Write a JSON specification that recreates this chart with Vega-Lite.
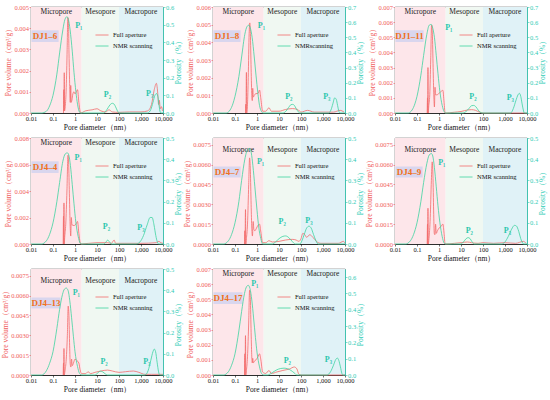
{
  "$schema": "https://vega.github.io/schema/vega-lite/v6.json",
  "description": "Pore size distribution of eight samples: full aperture pore volume and NMR porosity.",
  "padding": {"left": 1, "right": 1, "top": 3, "bottom": 0},
  "columns": 3,
  "spacing": {"row": 3, "column": 0},
  "datasets": {
    "regions": [
      {"r": "Micropore", "a": 0.01, "b": 2},
      {"r": "Mesopore", "a": 2, "b": 100},
      {"r": "Macropore", "a": 100, "b": 10000}
    ],
    "tags": [
      {"s": "DJ1-6", "t": "DJ1–6", "d": 0.0435, "v": 0.003625, "lo": 0.0105, "hi": 0.18, "top": 0.0039, "bot": 0.00335},
      {"s": "DJ1-8", "t": "DJ1–8", "d": 0.0435, "v": 0.00435, "lo": 0.0105, "hi": 0.18, "top": 0.00468, "bot": 0.00402},
      {"s": "DJ1-11", "t": "DJ1–11", "d": 0.046, "v": 0.005075, "lo": 0.0105, "hi": 0.2, "top": 0.00546, "bot": 0.00469},
      {"s": "DJ4-4", "t": "DJ4–4", "d": 0.0435, "v": 0.0058, "lo": 0.0105, "hi": 0.18, "top": 0.00624, "bot": 0.00536},
      {"s": "DJ4-7", "t": "DJ4–7", "d": 0.0435, "v": 0.0054375, "lo": 0.0105, "hi": 0.18, "top": 0.00585, "bot": 0.005025},
      {"s": "DJ4-9", "t": "DJ4–9", "d": 0.0435, "v": 0.0054375, "lo": 0.0105, "hi": 0.18, "top": 0.00585, "bot": 0.005025},
      {"s": "DJ4-13", "t": "DJ4–13", "d": 0.048, "v": 0.0054375, "lo": 0.0105, "hi": 0.22, "top": 0.00585, "bot": 0.005025},
      {"s": "DJ4-17", "t": "DJ4–17", "d": 0.048, "v": 0.005075, "lo": 0.0105, "hi": 0.22, "top": 0.00546, "bot": 0.00469}
    ],
    "DJ1-6 full": [
      {"d":0.3,"v":0},{"d":0.31,"v":0.0011},{"d":0.315,"v":0.0001},{"d":0.325,"v":0.0019},{"d":0.335,"v":0.0001},{"d":0.36,"v":0.0003},{"d":0.4,"v":0.0012},{"d":0.44,"v":0.003},{"d":0.47,"v":0.0045},{"d":0.5,"v":0.0044},{"d":0.53,"v":0.003},{"d":0.57,"v":0.0014},{"d":0.61,"v":0.0005},{"d":0.64,"v":0.0013},{"d":0.67,"v":0.0005},{"d":0.72,"v":0.0006},{"d":0.8,"v":0.0009},{"d":0.9,"v":0.001},{"d":1.0,"v":0.0009},{"d":1.15,"v":0.001},{"d":1.3,"v":0.0011},{"d":1.5,"v":0.0005},{"d":1.8,"v":0},{"d":3,"v":0.0001},{"d":6,"v":0.00015},{"d":10,"v":0.0002},{"d":15,"v":0.0001},{"d":25,"v":0.00005},{"d":35,"v":0.00015},{"d":50,"v":0.00005},{"d":100,"v":0.00003},{"d":300,"v":0.00005},{"d":1000,"v":0.00005},{"d":2000,"v":0.0001},{"d":3000,"v":0.0004},{"d":4000,"v":0.0011},{"d":5000,"v":0.0014},{"d":5800,"v":0.0009},{"d":6300,"v":0.0004},{"d":6800,"v":0.0006},{"d":7500,"v":0.0002},{"d":8500,"v":0.0003},{"d":9500,"v":0.0001}
    ],
    "DJ1-6 nmr": [
      {"d":0.01,"v":0},{"d":0.03,"v":0},{"d":0.05,"v":0.01},{"d":0.07,"v":0.04},{"d":0.1,"v":0.1},{"d":0.15,"v":0.22},{"d":0.2,"v":0.34},{"d":0.28,"v":0.47},{"d":0.35,"v":0.53},{"d":0.43,"v":0.545},{"d":0.5,"v":0.53},{"d":0.6,"v":0.47},{"d":0.75,"v":0.35},{"d":0.9,"v":0.23},{"d":1.1,"v":0.12},{"d":1.3,"v":0.05},{"d":1.6,"v":0.005},{"d":1.8,"v":0},{"d":20,"v":0},{"d":25,"v":0.01},{"d":32,"v":0.03},{"d":40,"v":0.048},{"d":50,"v":0.055},{"d":60,"v":0.05},{"d":70,"v":0.035},{"d":85,"v":0.012},{"d":100,"v":0},{"d":2000,"v":0},{"d":2800,"v":0.02},{"d":3500,"v":0.06},{"d":4300,"v":0.1},{"d":5000,"v":0.11},{"d":5800,"v":0.095},{"d":6500,"v":0.05},{"d":7300,"v":0.01},{"d":8000,"v":0},{"d":10000,"v":0}
    ],
    "DJ1-6 peaks": [
      {"t":"P₁","d":1.5,"v":0.0041},{"t":"P₂","d":30,"v":0.00085},{"t":"P₃","d":2500,"v":0.0009}
    ],
    "DJ1-8 full": [
      {"d":0.3,"v":0},{"d":0.31,"v":0.0005},{"d":0.315,"v":0},{"d":0.33,"v":0.0023},{"d":0.34,"v":0},{"d":0.37,"v":0.0005},{"d":0.4,"v":0.002},{"d":0.44,"v":0.0045},{"d":0.47,"v":0.0051},{"d":0.5,"v":0.0045},{"d":0.54,"v":0.0025},{"d":0.58,"v":0.001},{"d":0.61,"v":0.0007},{"d":0.64,"v":0.0014},{"d":0.68,"v":0.0009},{"d":0.75,"v":0.001},{"d":0.9,"v":0.0011},{"d":1.1,"v":0.0011},{"d":1.3,"v":0.0013},{"d":1.5,"v":0.0008},{"d":1.8,"v":0.0001},{"d":2.5,"v":0.0001},{"d":3.5,"v":0.0003},{"d":4.5,"v":0.0001},{"d":10,"v":0.0001},{"d":20,"v":0.0002},{"d":40,"v":0.00025},{"d":70,"v":0.0002},{"d":100,"v":0.00005},{"d":200,"v":0.00015},{"d":400,"v":0.00005},{"d":1000,"v":0.00005},{"d":3000,"v":0.00005},{"d":6000,"v":0.00015},{"d":9000,"v":0.00005}
    ],
    "DJ1-8 nmr": [
      {"d":0.01,"v":0},{"d":0.04,"v":0},{"d":0.06,"v":0.02},{"d":0.08,"v":0.06},{"d":0.1,"v":0.11},{"d":0.15,"v":0.24},{"d":0.2,"v":0.37},{"d":0.28,"v":0.52},{"d":0.35,"v":0.57},{"d":0.42,"v":0.58},{"d":0.5,"v":0.56},{"d":0.6,"v":0.5},{"d":0.75,"v":0.37},{"d":0.9,"v":0.25},{"d":1.1,"v":0.13},{"d":1.3,"v":0.05},{"d":1.6,"v":0.01},{"d":1.9,"v":0},{"d":15,"v":0},{"d":20,"v":0.01},{"d":27,"v":0.035},{"d":35,"v":0.055},{"d":42,"v":0.057},{"d":50,"v":0.05},{"d":60,"v":0.03},{"d":75,"v":0.008},{"d":90,"v":0},{"d":1800,"v":0},{"d":2300,"v":0.02},{"d":2800,"v":0.06},{"d":3400,"v":0.1},{"d":4000,"v":0.09},{"d":4600,"v":0.05},{"d":5300,"v":0.01},{"d":6000,"v":0},{"d":10000,"v":0}
    ],
    "DJ1-8 peaks": [
      {"t":"P₁","d":1.6,"v":0.0049},{"t":"P₂","d":28,"v":0.0009},{"t":"P₃","d":1500,"v":0.0009}
    ],
    "DJ1-11 full": [
      {"d":0.29,"v":0},{"d":0.3,"v":0.001},{"d":0.305,"v":0},{"d":0.315,"v":0.003},{"d":0.325,"v":0},{"d":0.34,"v":0.0004},{"d":0.38,"v":0.0012},{"d":0.42,"v":0.0035},{"d":0.46,"v":0.0058},{"d":0.5,"v":0.0052},{"d":0.54,"v":0.003},{"d":0.58,"v":0.0012},{"d":0.62,"v":0.0004},{"d":0.66,"v":0.0017},{"d":0.7,"v":0.0012},{"d":0.8,"v":0.0012},{"d":1.0,"v":0.0013},{"d":1.2,"v":0.0014},{"d":1.5,"v":0.0015},{"d":1.7,"v":0.0007},{"d":1.9,"v":0},{"d":5,"v":0.00005},{"d":10,"v":0.0001},{"d":20,"v":0.0002},{"d":30,"v":0.00022},{"d":45,"v":0.00018},{"d":70,"v":0.00005},{"d":100,"v":0},{"d":10000,"v":0}
    ],
    "DJ1-11 nmr": [
      {"d":0.01,"v":0},{"d":0.04,"v":0},{"d":0.06,"v":0.02},{"d":0.08,"v":0.06},{"d":0.1,"v":0.11},{"d":0.15,"v":0.25},{"d":0.2,"v":0.38},{"d":0.28,"v":0.52},{"d":0.36,"v":0.58},{"d":0.45,"v":0.585},{"d":0.52,"v":0.56},{"d":0.62,"v":0.5},{"d":0.75,"v":0.38},{"d":0.9,"v":0.26},{"d":1.1,"v":0.14},{"d":1.4,"v":0.05},{"d":1.7,"v":0.01},{"d":2,"v":0},{"d":12,"v":0},{"d":17,"v":0.01},{"d":23,"v":0.03},{"d":30,"v":0.048},{"d":38,"v":0.05},{"d":48,"v":0.04},{"d":60,"v":0.02},{"d":80,"v":0.003},{"d":100,"v":0},{"d":1800,"v":0},{"d":2400,"v":0.03},{"d":3100,"v":0.08},{"d":3900,"v":0.12},{"d":4500,"v":0.13},{"d":5200,"v":0.11},{"d":6000,"v":0.06},{"d":6800,"v":0.02},{"d":7500,"v":0},{"d":10000,"v":0}
    ],
    "DJ1-11 peaks": [
      {"t":"P₁","d":2.8,"v":0.0056},{"t":"P₂","d":35,"v":0.00105},{"t":"P₃","d":1750,"v":0.001}
    ],
    "DJ4-4 full": [
      {"d":0.29,"v":0},{"d":0.3,"v":0.0021},{"d":0.305,"v":0},{"d":0.315,"v":0.0031},{"d":0.325,"v":0},{"d":0.34,"v":0.0005},{"d":0.38,"v":0.0015},{"d":0.43,"v":0.004},{"d":0.48,"v":0.0067},{"d":0.52,"v":0.0058},{"d":0.56,"v":0.0035},{"d":0.6,"v":0.0015},{"d":0.64,"v":0.0006},{"d":0.68,"v":0.002},{"d":0.72,"v":0.0015},{"d":0.8,"v":0.0014},{"d":0.95,"v":0.0014},{"d":1.1,"v":0.0015},{"d":1.3,"v":0.0017},{"d":1.5,"v":0.0008},{"d":1.8,"v":0},{"d":10,"v":0.0001},{"d":30,"v":0.0001},{"d":45,"v":0.00005},{"d":60,"v":0.0003},{"d":70,"v":0.00005},{"d":100,"v":0.00005},{"d":1000,"v":0.00005},{"d":5000,"v":0.0001},{"d":6500,"v":0.0002},{"d":8000,"v":0.0001},{"d":10000,"v":0.00005}
    ],
    "DJ4-4 nmr": [
      {"d":0.01,"v":0},{"d":0.03,"v":0},{"d":0.05,"v":0.015},{"d":0.07,"v":0.045},{"d":0.1,"v":0.1},{"d":0.15,"v":0.2},{"d":0.2,"v":0.29},{"d":0.28,"v":0.39},{"d":0.36,"v":0.425},{"d":0.45,"v":0.43},{"d":0.52,"v":0.42},{"d":0.62,"v":0.37},{"d":0.75,"v":0.28},{"d":0.9,"v":0.19},{"d":1.1,"v":0.1},{"d":1.4,"v":0.035},{"d":1.7,"v":0.005},{"d":2,"v":0},{"d":20,"v":0},{"d":25,"v":0.008},{"d":30,"v":0.018},{"d":36,"v":0.012},{"d":45,"v":0},{"d":600,"v":0},{"d":900,"v":0.01},{"d":1300,"v":0.04},{"d":1900,"v":0.09},{"d":2600,"v":0.125},{"d":3200,"v":0.125},{"d":3900,"v":0.09},{"d":4700,"v":0.04},{"d":5500,"v":0.01},{"d":6300,"v":0},{"d":10000,"v":0}
    ],
    "DJ4-4 peaks": [
      {"t":"P₁","d":1.4,"v":0.0065},{"t":"P₂","d":27,"v":0.0013},{"t":"P₃","d":1000,"v":0.0012}
    ],
    "DJ4-7 full": [
      {"d":0.27,"v":0},{"d":0.28,"v":0.001},{"d":0.285,"v":0},{"d":0.3,"v":0.0026},{"d":0.31,"v":0},{"d":0.33,"v":0.0004},{"d":0.37,"v":0.0015},{"d":0.42,"v":0.0045},{"d":0.46,"v":0.0065},{"d":0.5,"v":0.0055},{"d":0.54,"v":0.003},{"d":0.58,"v":0.0012},{"d":0.62,"v":0.0006},{"d":0.67,"v":0.0017},{"d":0.72,"v":0.0011},{"d":0.8,"v":0.001},{"d":0.95,"v":0.0012},{"d":1.1,"v":0.0014},{"d":1.3,"v":0.0015},{"d":1.5,"v":0.0009},{"d":1.8,"v":0.0001},{"d":2.5,"v":0.0001},{"d":3.5,"v":0.00025},{"d":5,"v":0.00015},{"d":10,"v":0.0002},{"d":20,"v":0.0003},{"d":40,"v":0.00035},{"d":60,"v":0.0003},{"d":80,"v":0.0002},{"d":100,"v":0.0004},{"d":120,"v":0.0008},{"d":150,"v":0.0007},{"d":180,"v":0.0005},{"d":250,"v":0.0007},{"d":350,"v":0.0005},{"d":500,"v":0.0002},{"d":800,"v":0.00005},{"d":5000,"v":0.00005},{"d":8500,"v":0.0002},{"d":10000,"v":0.00005}
    ],
    "DJ4-7 nmr": [
      {"d":0.01,"v":0},{"d":0.03,"v":0},{"d":0.05,"v":0.015},{"d":0.07,"v":0.045},{"d":0.1,"v":0.1},{"d":0.15,"v":0.2},{"d":0.2,"v":0.3},{"d":0.28,"v":0.4},{"d":0.37,"v":0.445},{"d":0.47,"v":0.45},{"d":0.55,"v":0.43},{"d":0.65,"v":0.37},{"d":0.8,"v":0.27},{"d":1.0,"v":0.16},{"d":1.2,"v":0.08},{"d":1.5,"v":0.025},{"d":1.8,"v":0},{"d":5,"v":0},{"d":7,"v":0.01},{"d":10,"v":0.025},{"d":15,"v":0.036},{"d":20,"v":0.038},{"d":28,"v":0.03},{"d":40,"v":0.012},{"d":55,"v":0},{"d":90,"v":0},{"d":110,"v":0.015},{"d":140,"v":0.045},{"d":180,"v":0.075},{"d":230,"v":0.084},{"d":290,"v":0.075},{"d":370,"v":0.045},{"d":480,"v":0.015},{"d":600,"v":0},{"d":10000,"v":0}
    ],
    "DJ4-7 peaks": [
      {"t":"P₁","d":1.45,"v":0.0062},{"t":"P₂","d":14,"v":0.00165},{"t":"P₃","d":230,"v":0.0017}
    ],
    "DJ4-9 full": [
      {"d":0.29,"v":0},{"d":0.3,"v":0.0015},{"d":0.305,"v":0},{"d":0.315,"v":0.0027},{"d":0.325,"v":0},{"d":0.35,"v":0.0004},{"d":0.4,"v":0.002},{"d":0.45,"v":0.0048},{"d":0.49,"v":0.0062},{"d":0.53,"v":0.0052},{"d":0.57,"v":0.0025},{"d":0.61,"v":0.0008},{"d":0.65,"v":0.0007},{"d":0.7,"v":0.0015},{"d":0.75,"v":0.0008},{"d":0.85,"v":0.001},{"d":1.0,"v":0.0012},{"d":1.2,"v":0.0013},{"d":1.5,"v":0.0015},{"d":1.7,"v":0.0008},{"d":1.9,"v":0},{"d":5,"v":0.00005},{"d":10,"v":0.0001},{"d":20,"v":0.00015},{"d":30,"v":0.0001},{"d":60,"v":0.00005},{"d":100,"v":0.0001},{"d":300,"v":0.00005},{"d":1000,"v":0.0001},{"d":3000,"v":0.00005},{"d":7000,"v":0.0002},{"d":9000,"v":0.00005}
    ],
    "DJ4-9 nmr": [
      {"d":0.01,"v":0},{"d":0.03,"v":0},{"d":0.05,"v":0.015},{"d":0.07,"v":0.045},{"d":0.1,"v":0.1},{"d":0.15,"v":0.2},{"d":0.2,"v":0.29},{"d":0.28,"v":0.38},{"d":0.36,"v":0.42},{"d":0.45,"v":0.427},{"d":0.52,"v":0.415},{"d":0.62,"v":0.36},{"d":0.75,"v":0.27},{"d":0.9,"v":0.18},{"d":1.1,"v":0.1},{"d":1.4,"v":0.035},{"d":1.7,"v":0.005},{"d":2,"v":0},{"d":10,"v":0},{"d":13,"v":0.01},{"d":17,"v":0.025},{"d":21,"v":0.03},{"d":26,"v":0.025},{"d":32,"v":0.01},{"d":40,"v":0},{"d":700,"v":0},{"d":1000,"v":0.01},{"d":1400,"v":0.035},{"d":2000,"v":0.07},{"d":2700,"v":0.088},{"d":3300,"v":0.085},{"d":4200,"v":0.06},{"d":5200,"v":0.025},{"d":6300,"v":0.005},{"d":7000,"v":0},{"d":10000,"v":0}
    ],
    "DJ4-9 peaks": [
      {"t":"P₁","d":1.35,"v":0.0061},{"t":"P₂","d":24,"v":0.001},{"t":"P₃","d":1300,"v":0.001}
    ],
    "DJ4-13 full": [
      {"d":0.29,"v":0},{"d":0.3,"v":0.0009},{"d":0.305,"v":0},{"d":0.315,"v":0.002},{"d":0.325,"v":0},{"d":0.35,"v":0.0003},{"d":0.4,"v":0.0012},{"d":0.45,"v":0.003},{"d":0.49,"v":0.0052},{"d":0.53,"v":0.0045},{"d":0.57,"v":0.0022},{"d":0.61,"v":0.0008},{"d":0.65,"v":0.0006},{"d":0.7,"v":0.0012},{"d":0.75,"v":0.0007},{"d":0.85,"v":0.0009},{"d":1.0,"v":0.0012},{"d":1.2,"v":0.0011},{"d":1.5,"v":0.0009},{"d":1.7,"v":0.0004},{"d":2,"v":0.0001},{"d":3,"v":0.0001},{"d":4,"v":0.00025},{"d":5,"v":0.0001},{"d":8,"v":0.0002},{"d":15,"v":0.0003},{"d":30,"v":0.00037},{"d":50,"v":0.0003},{"d":100,"v":0.0002},{"d":200,"v":0.00025},{"d":450,"v":0.0003},{"d":800,"v":0.0002},{"d":1500,"v":0.00005},{"d":3000,"v":0.00005},{"d":10000,"v":0.00005}
    ],
    "DJ4-13 nmr": [
      {"d":0.01,"v":0},{"d":0.03,"v":0},{"d":0.05,"v":0.02},{"d":0.07,"v":0.055},{"d":0.1,"v":0.11},{"d":0.15,"v":0.22},{"d":0.2,"v":0.31},{"d":0.27,"v":0.38},{"d":0.33,"v":0.405},{"d":0.4,"v":0.41},{"d":0.48,"v":0.4},{"d":0.58,"v":0.35},{"d":0.7,"v":0.27},{"d":0.85,"v":0.18},{"d":1.0,"v":0.11},{"d":1.3,"v":0.04},{"d":1.6,"v":0.008},{"d":2,"v":0},{"d":8,"v":0},{"d":11,"v":0.01},{"d":14,"v":0.018},{"d":18,"v":0.015},{"d":24,"v":0.005},{"d":30,"v":0},{"d":1500,"v":0},{"d":2100,"v":0.02},{"d":2800,"v":0.07},{"d":3500,"v":0.11},{"d":4000,"v":0.122},{"d":4600,"v":0.11},{"d":5400,"v":0.06},{"d":6300,"v":0.015},{"d":7000,"v":0},{"d":10000,"v":0}
    ],
    "DJ4-13 peaks": [
      {"t":"P₁","d":1.15,"v":0.0062},{"t":"P₂","d":21,"v":0.00095},{"t":"P₃","d":1850,"v":0.00095}
    ],
    "DJ4-17 full": [
      {"d":0.27,"v":0},{"d":0.28,"v":0.0014},{"d":0.285,"v":0},{"d":0.3,"v":0.0026},{"d":0.31,"v":0},{"d":0.33,"v":0.0003},{"d":0.37,"v":0.0012},{"d":0.42,"v":0.0035},{"d":0.46,"v":0.0056},{"d":0.5,"v":0.005},{"d":0.54,"v":0.0028},{"d":0.58,"v":0.0012},{"d":0.61,"v":0.0008},{"d":0.64,"v":0.0011},{"d":0.68,"v":0.0008},{"d":0.75,"v":0.0009},{"d":0.9,"v":0.001},{"d":1.1,"v":0.0012},{"d":1.3,"v":0.0014},{"d":1.5,"v":0.001},{"d":1.8,"v":0.0002},{"d":2.5,"v":0.0001},{"d":3.5,"v":0.0003},{"d":4.5,"v":0.0001},{"d":8,"v":0.0002},{"d":15,"v":0.0003},{"d":30,"v":0.0004},{"d":50,"v":0.00053},{"d":65,"v":0.0004},{"d":80,"v":0.00005},{"d":100,"v":0},{"d":10000,"v":0}
    ],
    "DJ4-17 nmr": [
      {"d":0.01,"v":0},{"d":0.03,"v":0},{"d":0.05,"v":0.02},{"d":0.07,"v":0.06},{"d":0.1,"v":0.13},{"d":0.15,"v":0.27},{"d":0.2,"v":0.39},{"d":0.27,"v":0.5},{"d":0.33,"v":0.54},{"d":0.4,"v":0.55},{"d":0.48,"v":0.53},{"d":0.58,"v":0.46},{"d":0.7,"v":0.35},{"d":0.85,"v":0.23},{"d":1.0,"v":0.14},{"d":1.3,"v":0.05},{"d":1.6,"v":0.01},{"d":2,"v":0},{"d":3,"v":0},{"d":5,"v":0.015},{"d":8,"v":0.032},{"d":12,"v":0.04},{"d":17,"v":0.042},{"d":25,"v":0.038},{"d":35,"v":0.028},{"d":50,"v":0.012},{"d":65,"v":0},{"d":1500,"v":0},{"d":2200,"v":0.02},{"d":3000,"v":0.06},{"d":3800,"v":0.095},{"d":4500,"v":0.104},{"d":5200,"v":0.09},{"d":6200,"v":0.05},{"d":7200,"v":0.01},{"d":8000,"v":0},{"d":10000,"v":0}
    ],
    "DJ4-17 peaks": [
      {"t":"P₁","d":0.8,"v":0.006},{"t":"P₂","d":24,"v":0.0009},{"t":"P₃","d":1780,"v":0.001}
    ]
  },
  "concat": [
    {
      "width": 132, "height": 106,
      "encoding": {"x": {"field": "d", "type": "quantitative", "scale": {"type": "log", "domain": [0.01, 10000]}, "axis": {"values": [0.01, 0.1, 1, 10, 100, 1000, 10000], "format": ",", "title": "Pore diameter（nm）"}}},
      "layer": [
        {"layer": [
          {"data": {"name": "regions"}, "mark": "rect", "encoding": {"x": {"field": "a", "type": "quantitative"}, "x2": {"field": "b"}, "fill": {"field": "r", "type": "nominal", "scale": {"domain": ["Micropore", "Mesopore", "Macropore"], "range": ["#fde6ea", "#f0f8f2", "#e0f2f7"]}, "legend": null}}},
          {"data": {"name": "regions"}, "transform": [{"calculate": "sqrt(datum.a * datum.b)", "as": "m"}], "mark": {"type": "text", "fontSize": 7.5, "color": "#222"}, "encoding": {"x": {"field": "m", "type": "quantitative"}, "y": {"datum": 0.00475, "axis": {"values": [0, 0.001, 0.002, 0.003, 0.004, 0.005], "format": ".3f", "title": "Pore volume（cm³/g）"}}, "text": {"field": "r"}}},
          {"data": {"name": "tags"}, "transform": [{"filter": "datum.s === 'DJ1-6'"}], "mark": {"type": "rect", "color": "#d9d6ee"}, "encoding": {"x": {"field": "lo", "type": "quantitative"}, "x2": {"field": "hi"}, "y": {"field": "top", "type": "quantitative", "axis": {"values": [0, 0.001, 0.002, 0.003, 0.004, 0.005], "format": ".3f", "title": "Pore volume（cm³/g）"}}, "y2": {"field": "bot"}}},
          {"data": {"name": "tags"}, "transform": [{"filter": "datum.s === 'DJ1-6'"}], "mark": {"type": "text", "fontSize": 9, "fontWeight": "bold", "color": "#f07020"}, "encoding": {"y": {"field": "v", "type": "quantitative", "axis": {"values": [0, 0.001, 0.002, 0.003, 0.004, 0.005], "format": ".3f", "title": "Pore volume（cm³/g）"}}, "text": {"field": "t"}}},
          {"data": {"name": "DJ1-6 full"}, "mark": "line", "encoding": {"y": {"field": "v", "type": "quantitative", "scale": {"domain": [0, 0.005]}, "axis": {"values": [0, 0.001, 0.002, 0.003, 0.004, 0.005], "format": ".3f", "title": "Pore volume（cm³/g）"}}, "color": {"datum": "Full aperture", "type": "nominal", "scale": {"domain": ["Full aperture", "NMR scanning"], "range": ["#f26b6b", "#3dd39f"]}, "legend": {"orient": "none", "legendX": 64, "legendY": 21}}}},
          {"data": {"name": "DJ1-6 peaks"}, "mark": {"type": "text", "fontSize": 8, "fontWeight": "bold", "color": "#2cc6ad"}, "encoding": {"y": {"field": "v", "type": "quantitative", "axis": {"values": [0, 0.001, 0.002, 0.003, 0.004, 0.005], "format": ".3f", "title": "Pore volume（cm³/g）"}}, "text": {"field": "t"}}}
        ]},
        {"data": {"name": "DJ1-6 nmr"}, "mark": "line", "encoding": {"y": {"field": "v", "type": "quantitative", "scale": {"domain": [0, 0.6]}, "axis": {"orient": "right", "values": [0, 0.1, 0.2, 0.3, 0.4, 0.5, 0.6], "format": ".1f", "title": "Porosity（%）"}}, "color": {"datum": "NMR scanning", "type": "nominal"}}}
      ],
      "resolve": {"scale": {"y": "independent"}}
    },
    {
      "width": 132, "height": 106,
      "encoding": {"x": {"field": "d", "type": "quantitative", "scale": {"type": "log", "domain": [0.01, 10000]}, "axis": {"values": [0.01, 0.1, 1, 10, 100, 1000, 10000], "format": ",", "title": "Pore diameter（nm）"}}},
      "layer": [
        {"layer": [
          {"data": {"name": "regions"}, "mark": "rect", "encoding": {"x": {"field": "a", "type": "quantitative"}, "x2": {"field": "b"}, "fill": {"field": "r", "type": "nominal", "scale": {"domain": ["Micropore", "Mesopore", "Macropore"], "range": ["#fde6ea", "#f0f8f2", "#e0f2f7"]}, "legend": null}}},
          {"data": {"name": "regions"}, "transform": [{"calculate": "sqrt(datum.a * datum.b)", "as": "m"}], "mark": {"type": "text", "fontSize": 7.5, "color": "#222"}, "encoding": {"x": {"field": "m", "type": "quantitative"}, "y": {"datum": 0.0057, "axis": {"values": [0, 0.001, 0.002, 0.003, 0.004, 0.005, 0.006], "format": ".3f", "title": "Pore volume（cm³/g）"}}, "text": {"field": "r"}}},
          {"data": {"name": "tags"}, "transform": [{"filter": "datum.s === 'DJ1-8'"}], "mark": {"type": "rect", "color": "#d9d6ee"}, "encoding": {"x": {"field": "lo", "type": "quantitative"}, "x2": {"field": "hi"}, "y": {"field": "top", "type": "quantitative", "axis": {"values": [0, 0.001, 0.002, 0.003, 0.004, 0.005, 0.006], "format": ".3f", "title": "Pore volume（cm³/g）"}}, "y2": {"field": "bot"}}},
          {"data": {"name": "tags"}, "transform": [{"filter": "datum.s === 'DJ1-8'"}], "mark": {"type": "text", "fontSize": 9, "fontWeight": "bold", "color": "#f07020"}, "encoding": {"y": {"field": "v", "type": "quantitative", "axis": {"values": [0, 0.001, 0.002, 0.003, 0.004, 0.005, 0.006], "format": ".3f", "title": "Pore volume（cm³/g）"}}, "text": {"field": "t"}}},
          {"data": {"name": "DJ1-8 full"}, "mark": "line", "encoding": {"y": {"field": "v", "type": "quantitative", "scale": {"domain": [0, 0.006]}, "axis": {"values": [0, 0.001, 0.002, 0.003, 0.004, 0.005, 0.006], "format": ".3f", "title": "Pore volume（cm³/g）"}}, "color": {"datum": "Full aperture", "type": "nominal", "scale": {"domain": ["Full aperture", "NMR scanning"], "range": ["#f26b6b", "#3dd39f"]}, "legend": {"orient": "none", "legendX": 64, "legendY": 21, "labelExpr": "datum.label === 'NMR scanning' ? 'NMRscanning' : datum.label"}}}},
          {"data": {"name": "DJ1-8 peaks"}, "mark": {"type": "text", "fontSize": 8, "fontWeight": "bold", "color": "#2cc6ad"}, "encoding": {"y": {"field": "v", "type": "quantitative", "axis": {"values": [0, 0.001, 0.002, 0.003, 0.004, 0.005, 0.006], "format": ".3f", "title": "Pore volume（cm³/g）"}}, "text": {"field": "t"}}}
        ]},
        {"data": {"name": "DJ1-8 nmr"}, "mark": "line", "encoding": {"y": {"field": "v", "type": "quantitative", "scale": {"domain": [0, 0.7]}, "axis": {"orient": "right", "values": [0, 0.1, 0.2, 0.3, 0.4, 0.5, 0.6, 0.7], "format": ".1f", "title": "Porosity（%）"}}, "color": {"datum": "NMR scanning", "type": "nominal"}}}
      ],
      "resolve": {"scale": {"y": "independent"}}
    },
    {
      "width": 132, "height": 106,
      "encoding": {"x": {"field": "d", "type": "quantitative", "scale": {"type": "log", "domain": [0.01, 10000]}, "axis": {"values": [0.01, 0.1, 1, 10, 100, 1000, 10000], "format": ",", "title": "Pore diameter（nm）"}}},
      "layer": [
        {"layer": [
          {"data": {"name": "regions"}, "mark": "rect", "encoding": {"x": {"field": "a", "type": "quantitative"}, "x2": {"field": "b"}, "fill": {"field": "r", "type": "nominal", "scale": {"domain": ["Micropore", "Mesopore", "Macropore"], "range": ["#fde6ea", "#f0f8f2", "#e0f2f7"]}, "legend": null}}},
          {"data": {"name": "regions"}, "transform": [{"calculate": "sqrt(datum.a * datum.b)", "as": "m"}], "mark": {"type": "text", "fontSize": 7.5, "color": "#222"}, "encoding": {"x": {"field": "m", "type": "quantitative"}, "y": {"datum": 0.00665, "axis": {"values": [0, 0.001, 0.002, 0.003, 0.004, 0.005, 0.006, 0.007], "format": ".3f", "title": "Pore volume（cm³/g）"}}, "text": {"field": "r"}}},
          {"data": {"name": "tags"}, "transform": [{"filter": "datum.s === 'DJ1-11'"}], "mark": {"type": "rect", "color": "#d9d6ee"}, "encoding": {"x": {"field": "lo", "type": "quantitative"}, "x2": {"field": "hi"}, "y": {"field": "top", "type": "quantitative", "axis": {"values": [0, 0.001, 0.002, 0.003, 0.004, 0.005, 0.006, 0.007], "format": ".3f", "title": "Pore volume（cm³/g）"}}, "y2": {"field": "bot"}}},
          {"data": {"name": "tags"}, "transform": [{"filter": "datum.s === 'DJ1-11'"}], "mark": {"type": "text", "fontSize": 9, "fontWeight": "bold", "color": "#f07020"}, "encoding": {"y": {"field": "v", "type": "quantitative", "axis": {"values": [0, 0.001, 0.002, 0.003, 0.004, 0.005, 0.006, 0.007], "format": ".3f", "title": "Pore volume（cm³/g）"}}, "text": {"field": "t"}}},
          {"data": {"name": "DJ1-11 full"}, "mark": "line", "encoding": {"y": {"field": "v", "type": "quantitative", "scale": {"domain": [0, 0.007]}, "axis": {"values": [0, 0.001, 0.002, 0.003, 0.004, 0.005, 0.006, 0.007], "format": ".3f", "title": "Pore volume（cm³/g）"}}, "color": {"datum": "Full aperture", "type": "nominal", "scale": {"domain": ["Full aperture", "NMR scanning"], "range": ["#f26b6b", "#3dd39f"]}, "legend": {"orient": "none", "legendX": 64, "legendY": 21}}}},
          {"data": {"name": "DJ1-11 peaks"}, "mark": {"type": "text", "fontSize": 8, "fontWeight": "bold", "color": "#2cc6ad"}, "encoding": {"y": {"field": "v", "type": "quantitative", "axis": {"values": [0, 0.001, 0.002, 0.003, 0.004, 0.005, 0.006, 0.007], "format": ".3f", "title": "Pore volume（cm³/g）"}}, "text": {"field": "t"}}}
        ]},
        {"data": {"name": "DJ1-11 nmr"}, "mark": "line", "encoding": {"y": {"field": "v", "type": "quantitative", "scale": {"domain": [0, 0.7]}, "axis": {"orient": "right", "values": [0, 0.1, 0.2, 0.3, 0.4, 0.5, 0.6, 0.7], "format": ".1f", "title": "Porosity（%）"}}, "color": {"datum": "NMR scanning", "type": "nominal"}}}
      ],
      "resolve": {"scale": {"y": "independent"}}
    },
    {
      "width": 132, "height": 106,
      "encoding": {"x": {"field": "d", "type": "quantitative", "scale": {"type": "log", "domain": [0.01, 10000]}, "axis": {"values": [0.01, 0.1, 1, 10, 100, 1000, 10000], "format": ",", "title": "Pore diameter（nm）"}}},
      "layer": [
        {"layer": [
          {"data": {"name": "regions"}, "mark": "rect", "encoding": {"x": {"field": "a", "type": "quantitative"}, "x2": {"field": "b"}, "fill": {"field": "r", "type": "nominal", "scale": {"domain": ["Micropore", "Mesopore", "Macropore"], "range": ["#fde6ea", "#f0f8f2", "#e0f2f7"]}, "legend": null}}},
          {"data": {"name": "regions"}, "transform": [{"calculate": "sqrt(datum.a * datum.b)", "as": "m"}], "mark": {"type": "text", "fontSize": 7.5, "color": "#222"}, "encoding": {"x": {"field": "m", "type": "quantitative"}, "y": {"datum": 0.0076, "axis": {"values": [0, 0.002, 0.004, 0.006, 0.008], "format": ".3f", "title": "Pore volume（cm³/g）"}}, "text": {"field": "r"}}},
          {"data": {"name": "tags"}, "transform": [{"filter": "datum.s === 'DJ4-4'"}], "mark": {"type": "rect", "color": "#d9d6ee"}, "encoding": {"x": {"field": "lo", "type": "quantitative"}, "x2": {"field": "hi"}, "y": {"field": "top", "type": "quantitative", "axis": {"values": [0, 0.002, 0.004, 0.006, 0.008], "format": ".3f", "title": "Pore volume（cm³/g）"}}, "y2": {"field": "bot"}}},
          {"data": {"name": "tags"}, "transform": [{"filter": "datum.s === 'DJ4-4'"}], "mark": {"type": "text", "fontSize": 9, "fontWeight": "bold", "color": "#f07020"}, "encoding": {"y": {"field": "v", "type": "quantitative", "axis": {"values": [0, 0.002, 0.004, 0.006, 0.008], "format": ".3f", "title": "Pore volume（cm³/g）"}}, "text": {"field": "t"}}},
          {"data": {"name": "DJ4-4 full"}, "mark": "line", "encoding": {"y": {"field": "v", "type": "quantitative", "scale": {"domain": [0, 0.008]}, "axis": {"values": [0, 0.002, 0.004, 0.006, 0.008], "format": ".3f", "title": "Pore volume（cm³/g）"}}, "color": {"datum": "Full aperture", "type": "nominal", "scale": {"domain": ["Full aperture", "NMR scanning"], "range": ["#f26b6b", "#3dd39f"]}, "legend": {"orient": "none", "legendX": 64, "legendY": 21}}}},
          {"data": {"name": "DJ4-4 peaks"}, "mark": {"type": "text", "fontSize": 8, "fontWeight": "bold", "color": "#2cc6ad"}, "encoding": {"y": {"field": "v", "type": "quantitative", "axis": {"values": [0, 0.002, 0.004, 0.006, 0.008], "format": ".3f", "title": "Pore volume（cm³/g）"}}, "text": {"field": "t"}}}
        ]},
        {"data": {"name": "DJ4-4 nmr"}, "mark": "line", "encoding": {"y": {"field": "v", "type": "quantitative", "scale": {"domain": [0, 0.5]}, "axis": {"orient": "right", "values": [0, 0.1, 0.2, 0.3, 0.4, 0.5], "format": ".1f", "title": "Porosity（%）"}}, "color": {"datum": "NMR scanning", "type": "nominal"}}}
      ],
      "resolve": {"scale": {"y": "independent"}}
    },
    {
      "width": 132, "height": 106,
      "encoding": {"x": {"field": "d", "type": "quantitative", "scale": {"type": "log", "domain": [0.01, 10000]}, "axis": {"values": [0.01, 0.1, 1, 10, 100, 1000, 10000], "format": ",", "title": "Pore diameter（nm）"}}},
      "layer": [
        {"layer": [
          {"data": {"name": "regions"}, "mark": "rect", "encoding": {"x": {"field": "a", "type": "quantitative"}, "x2": {"field": "b"}, "fill": {"field": "r", "type": "nominal", "scale": {"domain": ["Micropore", "Mesopore", "Macropore"], "range": ["#fde6ea", "#f0f8f2", "#e0f2f7"]}, "legend": null}}},
          {"data": {"name": "regions"}, "transform": [{"calculate": "sqrt(datum.a * datum.b)", "as": "m"}], "mark": {"type": "text", "fontSize": 7.5, "color": "#222"}, "encoding": {"x": {"field": "m", "type": "quantitative"}, "y": {"datum": 0.007125, "axis": {"values": [0, 0.0015, 0.003, 0.0045, 0.006, 0.0075], "format": ".4f", "title": "Pore volume（cm³/g）"}}, "text": {"field": "r"}}},
          {"data": {"name": "tags"}, "transform": [{"filter": "datum.s === 'DJ4-7'"}], "mark": {"type": "rect", "color": "#d9d6ee"}, "encoding": {"x": {"field": "lo", "type": "quantitative"}, "x2": {"field": "hi"}, "y": {"field": "top", "type": "quantitative", "axis": {"values": [0, 0.0015, 0.003, 0.0045, 0.006, 0.0075], "format": ".4f", "title": "Pore volume（cm³/g）"}}, "y2": {"field": "bot"}}},
          {"data": {"name": "tags"}, "transform": [{"filter": "datum.s === 'DJ4-7'"}], "mark": {"type": "text", "fontSize": 9, "fontWeight": "bold", "color": "#f07020"}, "encoding": {"y": {"field": "v", "type": "quantitative", "axis": {"values": [0, 0.0015, 0.003, 0.0045, 0.006, 0.0075], "format": ".4f", "title": "Pore volume（cm³/g）"}}, "text": {"field": "t"}}},
          {"data": {"name": "DJ4-7 full"}, "mark": "line", "encoding": {"y": {"field": "v", "type": "quantitative", "scale": {"domain": [0, 0.0075]}, "axis": {"values": [0, 0.0015, 0.003, 0.0045, 0.006, 0.0075], "format": ".4f", "title": "Pore volume（cm³/g）"}}, "color": {"datum": "Full aperture", "type": "nominal", "scale": {"domain": ["Full aperture", "NMR scanning"], "range": ["#f26b6b", "#3dd39f"]}, "legend": {"orient": "none", "legendX": 64, "legendY": 21}}}},
          {"data": {"name": "DJ4-7 peaks"}, "mark": {"type": "text", "fontSize": 8, "fontWeight": "bold", "color": "#2cc6ad"}, "encoding": {"y": {"field": "v", "type": "quantitative", "axis": {"values": [0, 0.0015, 0.003, 0.0045, 0.006, 0.0075], "format": ".4f", "title": "Pore volume（cm³/g）"}}, "text": {"field": "t"}}}
        ]},
        {"data": {"name": "DJ4-7 nmr"}, "mark": "line", "encoding": {"y": {"field": "v", "type": "quantitative", "scale": {"domain": [0, 0.5]}, "axis": {"orient": "right", "values": [0, 0.1, 0.2, 0.3, 0.4, 0.5], "format": ".1f", "title": "Porosity（%）"}}, "color": {"datum": "NMR scanning", "type": "nominal"}}}
      ],
      "resolve": {"scale": {"y": "independent"}}
    },
    {
      "width": 132, "height": 106,
      "encoding": {"x": {"field": "d", "type": "quantitative", "scale": {"type": "log", "domain": [0.01, 10000]}, "axis": {"values": [0.01, 0.1, 1, 10, 100, 1000, 10000], "format": ",", "title": "Pore diameter（nm）"}}},
      "layer": [
        {"layer": [
          {"data": {"name": "regions"}, "mark": "rect", "encoding": {"x": {"field": "a", "type": "quantitative"}, "x2": {"field": "b"}, "fill": {"field": "r", "type": "nominal", "scale": {"domain": ["Micropore", "Mesopore", "Macropore"], "range": ["#fde6ea", "#f0f8f2", "#e0f2f7"]}, "legend": null}}},
          {"data": {"name": "regions"}, "transform": [{"calculate": "sqrt(datum.a * datum.b)", "as": "m"}], "mark": {"type": "text", "fontSize": 7.5, "color": "#222"}, "encoding": {"x": {"field": "m", "type": "quantitative"}, "y": {"datum": 0.007125, "axis": {"values": [0, 0.0015, 0.003, 0.0045, 0.006, 0.0075], "format": ".4f", "title": "Pore volume（cm³/g）"}}, "text": {"field": "r"}}},
          {"data": {"name": "tags"}, "transform": [{"filter": "datum.s === 'DJ4-9'"}], "mark": {"type": "rect", "color": "#d9d6ee"}, "encoding": {"x": {"field": "lo", "type": "quantitative"}, "x2": {"field": "hi"}, "y": {"field": "top", "type": "quantitative", "axis": {"values": [0, 0.0015, 0.003, 0.0045, 0.006, 0.0075], "format": ".4f", "title": "Pore volume（cm³/g）"}}, "y2": {"field": "bot"}}},
          {"data": {"name": "tags"}, "transform": [{"filter": "datum.s === 'DJ4-9'"}], "mark": {"type": "text", "fontSize": 9, "fontWeight": "bold", "color": "#f07020"}, "encoding": {"y": {"field": "v", "type": "quantitative", "axis": {"values": [0, 0.0015, 0.003, 0.0045, 0.006, 0.0075], "format": ".4f", "title": "Pore volume（cm³/g）"}}, "text": {"field": "t"}}},
          {"data": {"name": "DJ4-9 full"}, "mark": "line", "encoding": {"y": {"field": "v", "type": "quantitative", "scale": {"domain": [0, 0.0075]}, "axis": {"values": [0, 0.0015, 0.003, 0.0045, 0.006, 0.0075], "format": ".4f", "title": "Pore volume（cm³/g）"}}, "color": {"datum": "Full aperture", "type": "nominal", "scale": {"domain": ["Full aperture", "NMR scanning"], "range": ["#f26b6b", "#3dd39f"]}, "legend": {"orient": "none", "legendX": 64, "legendY": 21}}}},
          {"data": {"name": "DJ4-9 peaks"}, "mark": {"type": "text", "fontSize": 8, "fontWeight": "bold", "color": "#2cc6ad"}, "encoding": {"y": {"field": "v", "type": "quantitative", "axis": {"values": [0, 0.0015, 0.003, 0.0045, 0.006, 0.0075], "format": ".4f", "title": "Pore volume（cm³/g）"}}, "text": {"field": "t"}}}
        ]},
        {"data": {"name": "DJ4-9 nmr"}, "mark": "line", "encoding": {"y": {"field": "v", "type": "quantitative", "scale": {"domain": [0, 0.5]}, "axis": {"orient": "right", "values": [0, 0.1, 0.2, 0.3, 0.4, 0.5], "format": ".1f", "title": "Porosity（%）"}}, "color": {"datum": "NMR scanning", "type": "nominal"}}}
      ],
      "resolve": {"scale": {"y": "independent"}}
    },
    {
      "width": 132, "height": 106,
      "encoding": {"x": {"field": "d", "type": "quantitative", "scale": {"type": "log", "domain": [0.01, 10000]}, "axis": {"values": [0.01, 0.1, 1, 10, 100, 1000, 10000], "format": ",", "title": "Pore diameter（nm）"}}},
      "layer": [
        {"layer": [
          {"data": {"name": "regions"}, "mark": "rect", "encoding": {"x": {"field": "a", "type": "quantitative"}, "x2": {"field": "b"}, "fill": {"field": "r", "type": "nominal", "scale": {"domain": ["Micropore", "Mesopore", "Macropore"], "range": ["#fde6ea", "#f0f8f2", "#e0f2f7"]}, "legend": null}}},
          {"data": {"name": "regions"}, "transform": [{"calculate": "sqrt(datum.a * datum.b)", "as": "m"}], "mark": {"type": "text", "fontSize": 7.5, "color": "#222"}, "encoding": {"x": {"field": "m", "type": "quantitative"}, "y": {"datum": 0.007125, "axis": {"values": [0, 0.0015, 0.003, 0.0045, 0.006, 0.0075], "format": ".4f", "title": "Pore volume（cm³/g）"}}, "text": {"field": "r"}}},
          {"data": {"name": "tags"}, "transform": [{"filter": "datum.s === 'DJ4-13'"}], "mark": {"type": "rect", "color": "#d9d6ee"}, "encoding": {"x": {"field": "lo", "type": "quantitative"}, "x2": {"field": "hi"}, "y": {"field": "top", "type": "quantitative", "axis": {"values": [0, 0.0015, 0.003, 0.0045, 0.006, 0.0075], "format": ".4f", "title": "Pore volume（cm³/g）"}}, "y2": {"field": "bot"}}},
          {"data": {"name": "tags"}, "transform": [{"filter": "datum.s === 'DJ4-13'"}], "mark": {"type": "text", "fontSize": 9, "fontWeight": "bold", "color": "#f07020"}, "encoding": {"y": {"field": "v", "type": "quantitative", "axis": {"values": [0, 0.0015, 0.003, 0.0045, 0.006, 0.0075], "format": ".4f", "title": "Pore volume（cm³/g）"}}, "text": {"field": "t"}}},
          {"data": {"name": "DJ4-13 full"}, "mark": "line", "encoding": {"y": {"field": "v", "type": "quantitative", "scale": {"domain": [0, 0.0075]}, "axis": {"values": [0, 0.0015, 0.003, 0.0045, 0.006, 0.0075], "format": ".4f", "title": "Pore volume（cm³/g）"}}, "color": {"datum": "Full aperture", "type": "nominal", "scale": {"domain": ["Full aperture", "NMR scanning"], "range": ["#f26b6b", "#3dd39f"]}, "legend": {"orient": "none", "legendX": 64, "legendY": 21}}}},
          {"data": {"name": "DJ4-13 peaks"}, "mark": {"type": "text", "fontSize": 8, "fontWeight": "bold", "color": "#2cc6ad"}, "encoding": {"y": {"field": "v", "type": "quantitative", "axis": {"values": [0, 0.0015, 0.003, 0.0045, 0.006, 0.0075], "format": ".4f", "title": "Pore volume（cm³/g）"}}, "text": {"field": "t"}}}
        ]},
        {"data": {"name": "DJ4-13 nmr"}, "mark": "line", "encoding": {"y": {"field": "v", "type": "quantitative", "scale": {"domain": [0, 0.5]}, "axis": {"orient": "right", "values": [0, 0.1, 0.2, 0.3, 0.4, 0.5], "format": ".1f", "title": "Porosity（%）"}}, "color": {"datum": "NMR scanning", "type": "nominal"}}}
      ],
      "resolve": {"scale": {"y": "independent"}}
    },
    {
      "width": 132, "height": 106,
      "encoding": {"x": {"field": "d", "type": "quantitative", "scale": {"type": "log", "domain": [0.01, 10000]}, "axis": {"values": [0.01, 0.1, 1, 10, 100, 1000, 10000], "format": ",", "title": "Pore diameter（nm）"}}},
      "layer": [
        {"layer": [
          {"data": {"name": "regions"}, "mark": "rect", "encoding": {"x": {"field": "a", "type": "quantitative"}, "x2": {"field": "b"}, "fill": {"field": "r", "type": "nominal", "scale": {"domain": ["Micropore", "Mesopore", "Macropore"], "range": ["#fde6ea", "#f0f8f2", "#e0f2f7"]}, "legend": null}}},
          {"data": {"name": "regions"}, "transform": [{"calculate": "sqrt(datum.a * datum.b)", "as": "m"}], "mark": {"type": "text", "fontSize": 7.5, "color": "#222"}, "encoding": {"x": {"field": "m", "type": "quantitative"}, "y": {"datum": 0.00665, "axis": {"values": [0, 0.001, 0.002, 0.003, 0.004, 0.005, 0.006, 0.007], "format": ".3f", "title": "Pore volume（cm³/g）"}}, "text": {"field": "r"}}},
          {"data": {"name": "tags"}, "transform": [{"filter": "datum.s === 'DJ4-17'"}], "mark": {"type": "rect", "color": "#d9d6ee"}, "encoding": {"x": {"field": "lo", "type": "quantitative"}, "x2": {"field": "hi"}, "y": {"field": "top", "type": "quantitative", "axis": {"values": [0, 0.001, 0.002, 0.003, 0.004, 0.005, 0.006, 0.007], "format": ".3f", "title": "Pore volume（cm³/g）"}}, "y2": {"field": "bot"}}},
          {"data": {"name": "tags"}, "transform": [{"filter": "datum.s === 'DJ4-17'"}], "mark": {"type": "text", "fontSize": 9, "fontWeight": "bold", "color": "#f07020"}, "encoding": {"y": {"field": "v", "type": "quantitative", "axis": {"values": [0, 0.001, 0.002, 0.003, 0.004, 0.005, 0.006, 0.007], "format": ".3f", "title": "Pore volume（cm³/g）"}}, "text": {"field": "t"}}},
          {"data": {"name": "DJ4-17 full"}, "mark": "line", "encoding": {"y": {"field": "v", "type": "quantitative", "scale": {"domain": [0, 0.007]}, "axis": {"values": [0, 0.001, 0.002, 0.003, 0.004, 0.005, 0.006, 0.007], "format": ".3f", "title": "Pore volume（cm³/g）"}}, "color": {"datum": "Full aperture", "type": "nominal", "scale": {"domain": ["Full aperture", "NMR scanning"], "range": ["#f26b6b", "#3dd39f"]}, "legend": {"orient": "none", "legendX": 64, "legendY": 21}}}},
          {"data": {"name": "DJ4-17 peaks"}, "mark": {"type": "text", "fontSize": 8, "fontWeight": "bold", "color": "#2cc6ad"}, "encoding": {"y": {"field": "v", "type": "quantitative", "axis": {"values": [0, 0.001, 0.002, 0.003, 0.004, 0.005, 0.006, 0.007], "format": ".3f", "title": "Pore volume（cm³/g）"}}, "text": {"field": "t"}}}
        ]},
        {"data": {"name": "DJ4-17 nmr"}, "mark": "line", "encoding": {"y": {"field": "v", "type": "quantitative", "scale": {"domain": [0, 0.65]}, "axis": {"orient": "right", "values": [0, 0.1, 0.2, 0.3, 0.4, 0.5, 0.6], "format": ".1f", "title": "Porosity（%）"}}, "color": {"datum": "NMR scanning", "type": "nominal"}}}
      ],
      "resolve": {"scale": {"y": "independent"}}
    }
  ],
  "resolve": {"scale": {"x": "independent", "y": "independent", "color": "independent"}, "legend": {"color": "independent"}},
  "config": {
    "font": "Liberation Serif",
    "view": {"stroke": "#333", "strokeWidth": 0.7},
    "axis": {"labelFontSize": 6.5, "titleFontSize": 7.5, "titleFontWeight": "normal", "tickSize": 2, "labelPadding": 0.5, "titlePadding": 1, "grid": false, "domainWidth": 0.8, "tickWidth": 0.6, "labelFont": "Liberation Serif", "titleFont": "Liberation Serif", "labelOverlap": false, "labelBound": false},
    "axisBottom": {"labelColor": "#111", "domainColor": "#111", "tickColor": "#111", "titleColor": "#111", "labelFlush": false},
    "axisLeft": {"labelColor": "#f05c5c", "domainColor": "#f05c5c", "tickColor": "#f05c5c", "titleColor": "#f05c5c"},
    "axisRight": {"labelColor": "#2ccbb5", "domainColor": "#2ccbb5", "tickColor": "#2ccbb5", "titleColor": "#2ccbb5", "titleAngle": 270, "titleBaseline": "top"},
    "legend": {"title": null, "labelFontSize": 6.5, "labelFont": "Liberation Serif", "symbolType": "stroke", "symbolSize": 170, "symbolStrokeWidth": 1, "rowPadding": 0, "labelColor": "#111", "padding": 0},
    "line": {"strokeWidth": 0.8, "interpolate": "monotone"},
    "text": {"font": "Liberation Serif", "baseline": "middle"}
  }
}
